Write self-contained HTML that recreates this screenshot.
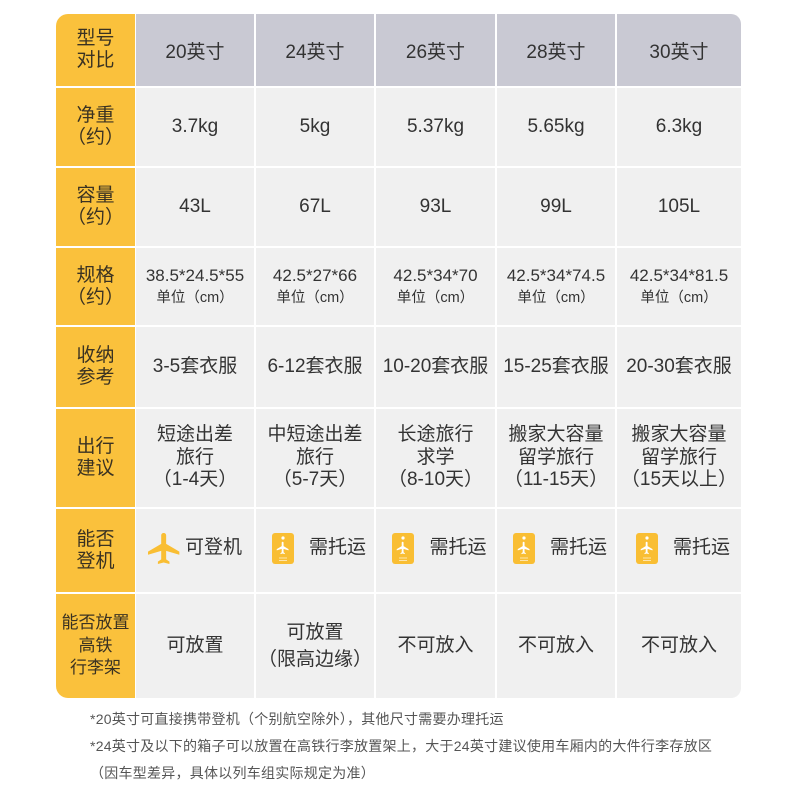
<!DOCTYPE html>
<html><head><meta charset="utf-8">
<style>
html,body{margin:0;padding:0;background:#fff;}
body{width:800px;height:800px;position:relative;overflow:hidden;font-family:"Liberation Sans","Noto Sans CJK SC",sans-serif;color:#333;}
.c{position:absolute;display:flex;flex-direction:column;align-items:center;justify-content:center;text-align:center;box-sizing:border-box;}
.y{background:#FAC13C;color:#3a3222;font-size:19px;line-height:22px;}
.h{background:#C9C9D3;font-size:19px;color:#333;}
.g{background:#F0F0F0;font-size:19px;line-height:22.5px;}
.spec{font-size:17px;line-height:23px;}
.unit{font-size:14.5px;}
.row{flex-direction:row;}
.fn{position:absolute;left:90px;font-size:14px;letter-spacing:0.25px;color:#555;white-space:nowrap;line-height:20px;}
</style></head><body>

<!-- header row -->
<div class="c y" style="left:56px;top:14px;width:79px;height:72px;border-top-left-radius:12px;"><div>型号</div><div>对比</div></div>
<div class="c h" style="left:136px;top:14px;width:118px;height:72px;">20英寸</div>
<div class="c h" style="left:256px;top:14px;width:118px;height:72px;">24英寸</div>
<div class="c h" style="left:376px;top:14px;width:119px;height:72px;">26英寸</div>
<div class="c h" style="left:497px;top:14px;width:118px;height:72px;">28英寸</div>
<div class="c h" style="left:617px;top:14px;width:124px;height:72px;border-top-right-radius:10px;">30英寸</div>

<!-- row1 -->
<div class="c y" style="left:56px;top:88px;width:79px;height:78px;"><div>净重</div><div>（约）</div></div>
<div class="c g" style="left:136px;top:88px;width:118px;height:78px;">3.7kg</div>
<div class="c g" style="left:256px;top:88px;width:118px;height:78px;">5kg</div>
<div class="c g" style="left:376px;top:88px;width:119px;height:78px;">5.37kg</div>
<div class="c g" style="left:497px;top:88px;width:118px;height:78px;">5.65kg</div>
<div class="c g" style="left:617px;top:88px;width:124px;height:78px;">6.3kg</div>

<!-- row2 -->
<div class="c y" style="left:56px;top:168px;width:79px;height:78px;"><div>容量</div><div>（约）</div></div>
<div class="c g" style="left:136px;top:168px;width:118px;height:78px;">43L</div>
<div class="c g" style="left:256px;top:168px;width:118px;height:78px;">67L</div>
<div class="c g" style="left:376px;top:168px;width:119px;height:78px;">93L</div>
<div class="c g" style="left:497px;top:168px;width:118px;height:78px;">99L</div>
<div class="c g" style="left:617px;top:168px;width:124px;height:78px;">105L</div>

<!-- row3 -->
<div class="c y" style="left:56px;top:248px;width:79px;height:77px;"><div>规格</div><div>（约）</div></div>
<div class="c g spec" style="left:136px;top:248px;width:118px;height:77px;"><div>38.5*24.5*55</div><div class="unit">单位（cm）</div></div>
<div class="c g spec" style="left:256px;top:248px;width:118px;height:77px;"><div>42.5*27*66</div><div class="unit">单位（cm）</div></div>
<div class="c g spec" style="left:376px;top:248px;width:119px;height:77px;"><div>42.5*34*70</div><div class="unit">单位（cm）</div></div>
<div class="c g spec" style="left:497px;top:248px;width:118px;height:77px;"><div>42.5*34*74.5</div><div class="unit">单位（cm）</div></div>
<div class="c g spec" style="left:617px;top:248px;width:124px;height:77px;"><div>42.5*34*81.5</div><div class="unit">单位（cm）</div></div>

<!-- row4 -->
<div class="c y" style="left:56px;top:327px;width:79px;height:80px;"><div>收纳</div><div>参考</div></div>
<div class="c g" style="left:136px;top:327px;width:118px;height:80px;">3-5套衣服</div>
<div class="c g" style="left:256px;top:327px;width:118px;height:80px;">6-12套衣服</div>
<div class="c g" style="left:376px;top:327px;width:119px;height:80px;">10-20套衣服</div>
<div class="c g" style="left:497px;top:327px;width:118px;height:80px;">15-25套衣服</div>
<div class="c g" style="left:617px;top:327px;width:124px;height:80px;">20-30套衣服</div>

<!-- row5 -->
<div class="c y" style="left:56px;top:409px;width:79px;height:98px;"><div>出行</div><div>建议</div></div>
<div class="c g" style="left:136px;top:409px;width:118px;height:98px;"><div>短途出差</div><div>旅行</div><div>（1-4天）</div></div>
<div class="c g" style="left:256px;top:409px;width:118px;height:98px;"><div>中短途出差</div><div>旅行</div><div>（5-7天）</div></div>
<div class="c g" style="left:376px;top:409px;width:119px;height:98px;"><div>长途旅行</div><div>求学</div><div>（8-10天）</div></div>
<div class="c g" style="left:497px;top:409px;width:118px;height:98px;"><div>搬家大容量</div><div>留学旅行</div><div>（11-15天）</div></div>
<div class="c g" style="left:617px;top:409px;width:124px;height:98px;"><div>搬家大容量</div><div>留学旅行</div><div>（15天以上）</div></div>

<!-- row6 -->
<div class="c y" style="left:56px;top:509px;width:79px;height:83px;"><div>能否</div><div>登机</div></div>
<div class="c g row" style="left:136px;top:509px;width:118px;height:83px;padding-bottom:4px;">
  <svg width="33" height="31" viewBox="2 2 20 20" preserveAspectRatio="none" style="margin-right:4px;"><path fill="#F9BE33" d="M21 16v-2l-8-5V3.5c0-.83-.67-1.5-1.5-1.5S10 2.670 10 3.5V9l-8 5v2l8-2.5V19l-2 1.5V22l3.5-1 3.5 1v-1.5L13 19v-5.5l8 2.5z"/></svg>
  <span>可登机</span>
</div>
<div class="c g row" style="left:256px;top:509px;width:118px;height:83px;padding-bottom:4px;padding-left:8px;">
  <svg width="22" height="31" viewBox="0 0 22 31" style="margin-right:15px;"><rect width="22" height="31" rx="3" fill="#F9BE33"/><circle cx="11" cy="5" r="1.6" fill="#fff"/><path transform="translate(3.5,7.5) scale(0.62)" fill="#fff" d="M21 16v-2l-8-5V3.5c0-.83-.67-1.5-1.5-1.5S10 2.67 10 3.5V9l-8 5v2l8-2.5V19l-2 1.5V22l3.5-1 3.5 1v-1.5L13 19v-5.5l8 2.5z"/><rect x="7" y="24.5" width="8" height="1" fill="#fff" opacity=".6"/><rect x="7" y="27" width="8" height="1" fill="#fff" opacity=".6"/></svg>
  <span>需托运</span>
</div>
<div class="c g row" style="left:376px;top:509px;width:119px;height:83px;padding-bottom:4px;padding-left:8px;">
  <svg width="22" height="31" viewBox="0 0 22 31" style="margin-right:15px;"><rect width="22" height="31" rx="3" fill="#F9BE33"/><circle cx="11" cy="5" r="1.6" fill="#fff"/><path transform="translate(3.5,7.5) scale(0.62)" fill="#fff" d="M21 16v-2l-8-5V3.5c0-.83-.67-1.5-1.5-1.5S10 2.67 10 3.5V9l-8 5v2l8-2.5V19l-2 1.5V22l3.5-1 3.5 1v-1.5L13 19v-5.5l8 2.5z"/><rect x="7" y="24.5" width="8" height="1" fill="#fff" opacity=".6"/><rect x="7" y="27" width="8" height="1" fill="#fff" opacity=".6"/></svg>
  <span>需托运</span>
</div>
<div class="c g row" style="left:497px;top:509px;width:118px;height:83px;padding-bottom:4px;padding-left:8px;">
  <svg width="22" height="31" viewBox="0 0 22 31" style="margin-right:15px;"><rect width="22" height="31" rx="3" fill="#F9BE33"/><circle cx="11" cy="5" r="1.6" fill="#fff"/><path transform="translate(3.5,7.5) scale(0.62)" fill="#fff" d="M21 16v-2l-8-5V3.5c0-.83-.67-1.5-1.5-1.5S10 2.67 10 3.5V9l-8 5v2l8-2.5V19l-2 1.5V22l3.5-1 3.5 1v-1.5L13 19v-5.5l8 2.5z"/><rect x="7" y="24.5" width="8" height="1" fill="#fff" opacity=".6"/><rect x="7" y="27" width="8" height="1" fill="#fff" opacity=".6"/></svg>
  <span>需托运</span>
</div>
<div class="c g row" style="left:617px;top:509px;width:124px;height:83px;padding-bottom:4px;padding-left:8px;">
  <svg width="22" height="31" viewBox="0 0 22 31" style="margin-right:15px;"><rect width="22" height="31" rx="3" fill="#F9BE33"/><circle cx="11" cy="5" r="1.6" fill="#fff"/><path transform="translate(3.5,7.5) scale(0.62)" fill="#fff" d="M21 16v-2l-8-5V3.5c0-.83-.67-1.5-1.5-1.5S10 2.67 10 3.5V9l-8 5v2l8-2.5V19l-2 1.5V22l3.5-1 3.5 1v-1.5L13 19v-5.5l8 2.5z"/><rect x="7" y="24.5" width="8" height="1" fill="#fff" opacity=".6"/><rect x="7" y="27" width="8" height="1" fill="#fff" opacity=".6"/></svg>
  <span>需托运</span>
</div>

<!-- row7 -->
<div class="c y" style="left:56px;top:594px;width:79px;height:104px;border-bottom-left-radius:12px;font-size:17px;line-height:22.5px;"><div>能否放置</div><div>高铁</div><div>行李架</div></div>
<div class="c g" style="left:136px;top:594px;width:118px;height:104px;">可放置</div>
<div class="c g" style="left:256px;top:594px;width:118px;height:104px;line-height:27px;"><div>可放置</div><div>（限高边缘）</div></div>
<div class="c g" style="left:376px;top:594px;width:119px;height:104px;">不可放入</div>
<div class="c g" style="left:497px;top:594px;width:118px;height:104px;">不可放入</div>
<div class="c g" style="left:617px;top:594px;width:124px;height:104px;border-bottom-right-radius:10px;">不可放入</div>

<!-- footnotes -->
<div class="fn" style="top:709px;">*20英寸可直接携带登机（个别航空除外），其他尺寸需要办理托运</div>
<div class="fn" style="top:736px;">*24英寸及以下的箱子可以放置在高铁行李放置架上，大于24英寸建议使用车厢内的大件行李存放区</div>
<div class="fn" style="top:763px;">（因车型差异，具体以列车组实际规定为准）</div>

</body></html>
